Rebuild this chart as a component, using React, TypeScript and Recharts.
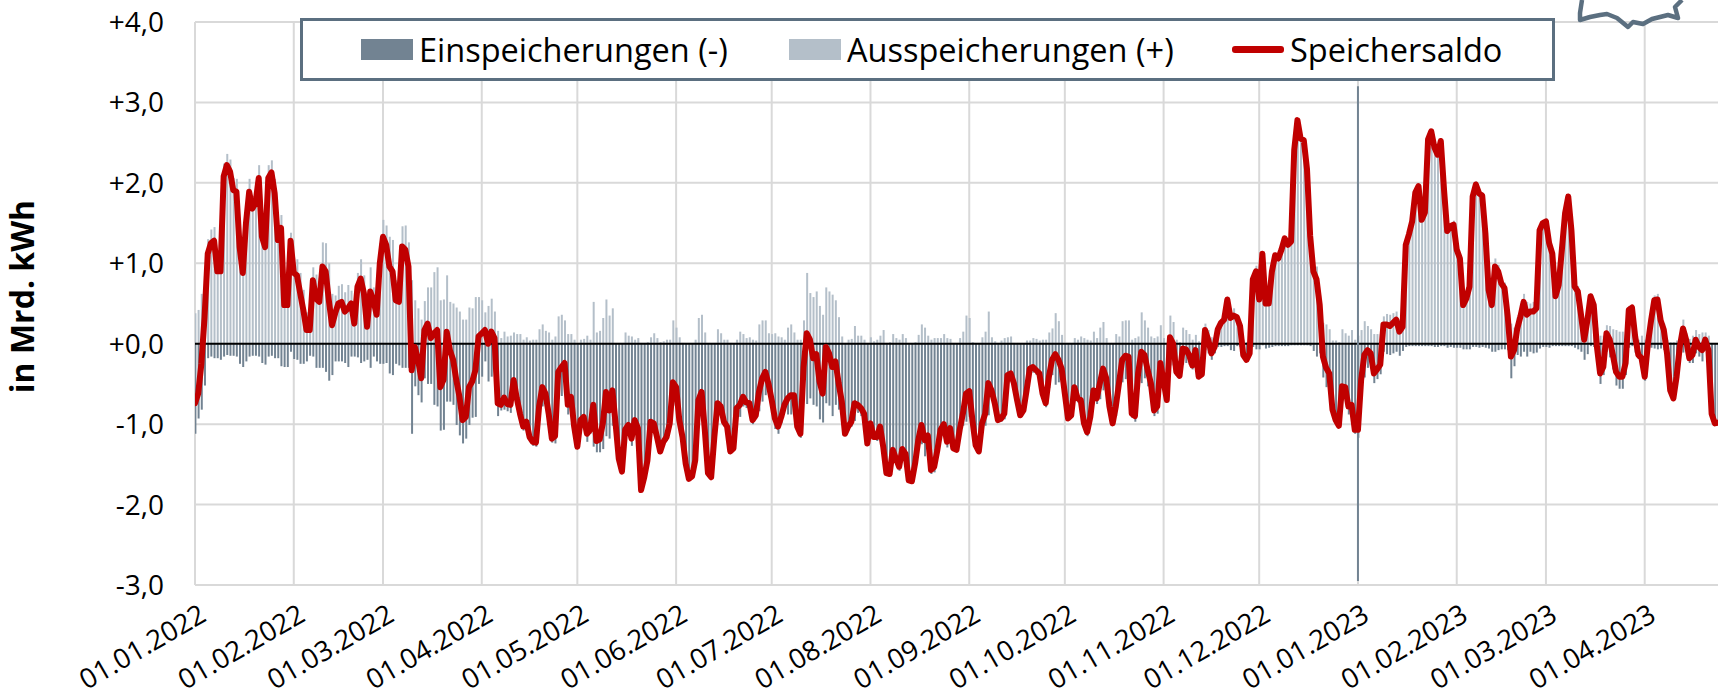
import React from 'react';
import { ComposedChart, Bar, Line, XAxis, YAxis, CartesianGrid, ReferenceLine, Legend } from 'recharts';

const monthTicks = [0, 31, 59, 90, 120, 151, 181, 212, 243, 273, 304, 334, 365, 396, 424, 455];
const monthLabels = ['01.01.2022', '01.02.2022', '01.03.2022', '01.04.2022', '01.05.2022', '01.06.2022', '01.07.2022', '01.08.2022', '01.09.2022', '01.10.2022', '01.11.2022', '01.12.2022', '01.01.2023', '01.02.2023', '01.03.2023', '01.04.2023'];
const yTicks = [4, 3, 2, 1, 0, -1, -2, -3];
const yLabels = ['+4,0', '+3,0', '+2,0', '+1,0', '+0,0', '-1,0', '-2,0', '-3,0'];

const saldo = [
  -.74, -.62, -.25, .33, 1.12, 1.25, 1.28, .9, .9, 2.08, 2.22, 2.14, 1.91, 1.89, 1.2, .88, 1.5, 1.89, 1.68, 1.75, 2.06, 1.33, 1.2, 2.06, 2.13, 1.87, 1.29, 1.44, .48, .48, 1.28,
  .88, .85, .63, .42, .17, .17, .79, .56, .52, .96, .9, .54, .23, .38, .5, .52, .4, .44, .5, .25, .71, .81, .63, .21, .65, .54, .36, 1.0,
  1.33, 1.23, .96, .9, .54, .52, 1.21, 1.17, .96, -.33, -.04, -.2, -.43, .17, .25, .07, .13, .17, -.54, -.45, .15, -.08, -.2, -.45, -.66, -.95, -.91, -.54, -.47, -.33, .09,
  .13, .17, 0, .15, .07, -.74, -.76, -.67, -.75, -.76, -.45, -.68, -.87, -1.03, -.97, -1.16, -1.22, -1.23, -.78, -.54, -.62, -.87, -1.18, -1.15, -.35, -.29, -.24, -.76, -.66, -1.03,
  -1.28, -.95, -.91, -1.12, -1.07, -.76, -1.21, -1.19, -.99, -.6, -.83, -.58, -.99, -1.43, -1.59, -1.07, -1.01, -1.18, -.95, -1.05, -1.82, -1.66, -1.45, -.97, -.99, -1.16, -1.34, -1.22, -1.16, -.99, -.48,
  -.54, -.95, -1.16, -1.49, -1.68, -1.65, -1.45, -.7, -.6, -1.07, -1.61, -1.66, -1.16, -.74, -.78, -.97, -1.03, -1.34, -1.3, -.8, -.76, -.66, -.73, -.74, -.95, -.89, -.6, -.43, -.35, -.5,
  -.7, -.93, -1.03, -.91, -.76, -.68, -.64, -.64, -1.03, -1.12, -.29, .13, .05, -.18, -.13, -.47, -.62, -.04, -.12, -.29, -.22, -.49, -.72, -1.12, -1.03, -.97, -.74, -.76, -.8, -.87, -1.24,
  -.99, -1.16, -1.16, -1.03, -1.28, -1.61, -1.62, -1.32, -1.43, -1.53, -1.31, -1.37, -1.7, -1.71, -1.49, -1.2, -1.01, -1.2, -1.14, -1.57, -1.53, -1.32, -1.07, -1.0, -1.22, -1.05, -1.3, -1.32, -1.07, -.87, -.62,
  -.59, -.95, -1.26, -1.34, -.99, -.87, -.49, -.58, -.74, -.95, -.93, -.87, -.39, -.37, -.49, -.7, -.89, -.83, -.58, -.31, -.29, -.33, -.37, -.62, -.74, -.41, -.2, -.13, -.2, -.31,
  -.62, -.93, -.89, -.54, -.68, -.7, -.99, -1.1, -.91, -.58, -.68, -.49, -.31, -.43, -.78, -.99, -.78, -.49, -.2, -.15, -.16, -.87, -.9, -.37, -.1, -.14, -.33, -.49, -.83, -.78, -.24,
  -.47, -.7, .08, 0, -.35, -.4, -.06, -.07, -.14, -.27, -.08, -.41, -.38, .17, .05, -.12, -.04, .18, .26, .3, .55, .32, .35, .33, .22, -.14, -.2, -.12, .8, .9,
  .55, 1.12, .5, .5, .9, 1.1, 1.06, 1.17, 1.31, 1.23, 1.27, 2.41, 2.78, 2.55, 2.53, 2.17, 1.34, .9, .8, .48, -.16, -.3, -.37, -.82, -.95, -1.02, -.53, -.54, -.78, -.76, -1.07,
  -1.07, -.45, -.14, -.08, -.12, -.37, -.32, -.26, .24, .24, .22, .26, .3, .15, .21, 1.23, 1.36, 1.52, 1.88, 1.96, 1.54, 1.63, 2.54, 2.64, 2.44, 2.35, 2.52, 1.92, 1.4, 1.46, 1.48,
  1.17, 1.06, .48, .56, .71, 1.83, 1.98, 1.87, 1.84, 1.37, .67, .48, .96, .9, .75, .69, .34, -.16, -.08, .19, .34, .52, .36, .4, .4, .44, 1.41, 1.5,
  1.52, 1.25, 1.12, .59, .73, 1.17, 1.62, 1.83, 1.41, .71, .65, .36, .05, .29, .59, .48, -.04, -.37, -.29, .13, .05, -.14, -.35, -.41, -.41, -.24, .42, .45, .09, -.14, -.18,
  -.41, 0, .29, .54, .55, .29, .17, -.12, -.58, -.68, -.41, -.04, .19, .05, -.18, -.14, .05, -.04, -.08, .05, -.08, -.87, -.99, -.98,
];

const ausspeicherungen = [
  .38, .42, .62, .85, 1.3, 1.42, 1.45, 1.08, 1.1, 2.24, 2.36, 2.29, 2.06, 2.05, 1.45, 1.17, 1.72, 2.05, 1.83, 1.9, 2.22, 1.57, 1.46, 2.22, 2.28, 2.05, 1.47, 1.6, .77, .77, 1.38,
  1.07, 1.05, .88, .67, .39, .32, .95, .86, .82, 1.26, 1.25, 1.0, .62, .6, .72, .74, .64, .73, .66, .41, .88, 1.05, .85, .41, .95, .7, .58, 1.25,
  1.54, 1.47, 1.33, 1.29, .79, .79, 1.46, 1.47, 1.26, .79, .54, .44, .3, .53, .7, .7, .89, .95, .54, .55, .85, .52, .5, .45, .4, .3, .3, .45, .44, .58, .58,
  .54, .39, .47, .56, .4, .16, .07, .15, .09, .1, .14, .12, .12, .05, .08, .04, .05, .05, .18, .24, .16, .14, .05, .09, .34, .36, .29, .12, .12, .05,
  0, .05, .06, .1, .05, .52, .14, .16, .32, .55, .35, .44, 0, 0, 0, .14, .1, .09, .05, .07, .01, .01, .02, .08, .13, .07, .02, .03, .05, .05, .29,
  .2, .08, .01, 0, 0, 0, .05, .32, .36, .14, 0, 0, .01, .18, .13, .05, .05, .01, 0, .05, .15, .12, .07, .08, .05, .04, .24, .29, .29, .13,
  .12, .13, .09, .08, .05, .2, .24, .14, .05, .05, .29, .88, .63, .58, .65, .47, .36, .7, .65, .61, .54, .33, .09, .01, .05, .06, .22, .1, .1, .05, 0,
  .08, .03, .05, .1, .17, .01, .02, .12, .07, .05, .12, .07, 0, 0, .02, .11, .24, .2, .1, .05, .07, .07, .07, .12, .07, .06, 0, 0, .07, .15, .35,
  .32, .02, 0, 0, .08, .15, .4, .08, .03, 0, .04, .07, .08, .09, .01, .01, 0, 0, .04, .04, .07, .06, .04, .05, .05, .14, .19, .38, .28, .11,
  0, 0, 0, .07, .05, .09, .07, .05, .04, .15, .07, .2, .27, .07, 0, 0, .12, .09, .28, .29, .29, .05, .07, .09, .39, .29, .2, .09, .07, .09, .23,
  .07, 0, .35, .27, .05, .02, .2, .17, .12, .05, .11, .03, .02, .25, .17, .08, .08, .22, .3, .33, .58, .4, .44, .36, .26, .05, .02, .05, .84, .97,
  .62, 1.14, .56, .55, .94, 1.13, 1.09, 1.2, 1.34, 1.26, 1.29, 2.43, 2.8, 2.57, 2.55, 2.19, 1.37, .99, .96, .6, .26, .24, .18, .04, .04, .02, .18, .13, .1, .17, .05,
  .1, .17, .28, .22, .18, .12, .12, .12, .34, .37, .36, .38, .4, .3, .3, 1.27, 1.39, 1.55, 1.91, 1.99, 1.57, 1.66, 2.57, 2.67, 2.48, 2.39, 2.55, 1.95, 1.45, 1.5, 1.53,
  1.22, 1.11, .55, .63, .78, 1.87, 2.02, 1.92, 1.88, 1.42, .73, .58, 1.06, .98, .82, .76, .42, .25, .2, .33, .5, .62, .52, .5, .52, .55, 1.47, 1.54,
  1.56, 1.3, 1.15, .62, .76, 1.2, 1.65, 1.86, 1.44, .76, .72, .46, .25, .42, .62, .52, .2, .1, .1, .23, .22, .18, .17, .15, .15, .15, .47, .48, .2, .05, .1,
  .05, .12, .34, .6, .62, .35, .25, .05, .02, .02, .04, .1, .3, .13, .06, .1, .17, .12, .14, .14, .1, 0, 0, 0,
];

const einspeicherungen = [
  -1.12, -.93, -.82, -.52, -.18, -.16, -.18, -.18, -.2, -.16, -.14, -.15, -.15, -.16, -.25, -.29, -.22, -.16, -.15, -.15, -.16, -.24, -.26, -.16, -.15, -.18, -.18, -.28, -.29, -.29, -.1,
  -.19, -.2, -.25, -.25, -.22, -.15, -.16, -.3, -.3, -.3, -.35, -.46, -.39, -.22, -.22, -.22, -.24, -.29, -.16, -.16, -.17, -.24, -.22, -.2, -.3, -.16, -.22, -.25,
  -.25, -.24, -.37, -.39, -.25, -.27, -.3, -.3, -.3, -1.12, -.53, -.64, -.73, -.43, -.5, -.5, -.76, -.78, -1.08, -1.07, -.72, -.72, -.76, -1.01, -1.14, -1.24, -1.18, -1.01, -.92, -.91, -.5,
  -.41, -.22, -.47, -.41, -.33, -.9, -.83, -.82, -.84, -.86, -.59, -.8, -.99, -1.08, -1.05, -1.2, -1.27, -1.28, -.96, -.78, -.78, -1.01, -1.23, -1.24, -.69, -.65, -.53, -.88, -.78, -1.08,
  -1.28, -1.0, -.97, -1.22, -1.12, -1.28, -1.35, -1.35, -1.31, -1.15, -1.18, -1.02, -.99, -1.43, -1.59, -1.21, -1.11, -1.27, -1.0, -1.12, -1.83, -1.67, -1.47, -1.05, -1.12, -1.23, -1.36, -1.25, -1.21, -1.04, -.77,
  -.74, -1.03, -1.17, -1.49, -1.68, -1.65, -1.5, -1.02, -.96, -1.21, -1.61, -1.66, -1.17, -.92, -.91, -1.02, -1.08, -1.35, -1.3, -.85, -.91, -.78, -.8, -.82, -1.0, -.93, -.84, -.72, -.64, -.63,
  -.82, -1.06, -1.12, -.99, -.81, -.88, -.88, -.78, -1.08, -1.17, -.58, -.75, -.68, -.76, -.78, -.94, -.98, -.74, -.77, -.9, -.76, -.82, -.81, -1.13, -1.08, -1.03, -.96, -.86, -.9, -.92, -1.24,
  -1.07, -1.19, -1.21, -1.13, -1.45, -1.62, -1.64, -1.44, -1.5, -1.58, -1.43, -1.44, -1.7, -1.71, -1.51, -1.31, -1.25, -1.4, -1.24, -1.62, -1.6, -1.39, -1.14, -1.12, -1.29, -1.11, -1.3, -1.32, -1.14, -1.02, -.97,
  -.91, -.97, -1.26, -1.34, -1.07, -1.02, -.89, -.66, -.77, -.95, -.97, -.94, -.47, -.46, -.5, -.71, -.89, -.83, -.62, -.35, -.36, -.39, -.41, -.67, -.79, -.55, -.39, -.51, -.48, -.42,
  -.62, -.93, -.89, -.61, -.73, -.79, -1.06, -1.15, -.95, -.73, -.75, -.69, -.58, -.5, -.78, -.99, -.9, -.58, -.48, -.44, -.45, -.92, -.97, -.46, -.49, -.43, -.53, -.58, -.9, -.87, -.47,
  -.54, -.7, -.27, -.27, -.4, -.42, -.26, -.24, -.26, -.32, -.19, -.44, -.4, -.08, -.12, -.2, -.12, -.04, -.04, -.03, -.03, -.08, -.09, -.03, -.04, -.19, -.22, -.17, -.04, -.07,
  -.07, -.02, -.06, -.05, -.04, -.03, -.03, -.03, -.03, -.03, -.02, -.02, -.02, -.02, -.02, -.02, -.03, -.09, -.16, -.12, -.42, -.54, -.55, -.86, -.99, -1.04, -.71, -.67, -.88, -.93, -1.12,
  -1.17, -.62, -.42, -.3, -.3, -.49, -.44, -.38, -.1, -.13, -.14, -.12, -.1, -.15, -.09, -.04, -.03, -.03, -.03, -.03, -.03, -.03, -.03, -.03, -.04, -.04, -.03, -.03, -.05, -.04, -.05,
  -.05, -.05, -.07, -.07, -.07, -.04, -.04, -.05, -.04, -.05, -.06, -.1, -.1, -.08, -.07, -.07, -.08, -.43, -.28, -.14, -.16, -.1, -.16, -.1, -.12, -.11, -.06, -.04,
  -.04, -.05, -.03, -.03, -.03, -.03, -.03, -.03, -.03, -.05, -.07, -.1, -.2, -.13, -.03, -.04, -.24, -.5, -.39, -.1, -.17, -.32, -.52, -.56, -.56, -.39, -.05, -.03, -.11, -.19, -.28,
  -.46, -.12, -.05, -.06, -.07, -.06, -.08, -.17, -.6, -.7, -.45, -.14, -.11, -.08, -.24, -.24, -.12, -.16, -.22, -.09, -.18, -.87, -.99, -.98,
];

const yearChange = 365;
const yearChangeTop = 3.2;
const yearChangeBottom = -2.95;

const rows = saldo.map((v, i) => ({
  day: i,
  saldo: v,
  aus: ausspeicherungen[i] ?? 0,
  ein: einspeicherungen[i] ?? 0,
}));

const FONT = '"Open Sans", sans-serif';

const XTick = (props: any) => {
  const { x, y, payload } = props;
  const idx = monthTicks.indexOf(payload.value);
  return (
    <text x={x + 13} y={y + 27} textAnchor="end" fontFamily={FONT} fontSize={27.5} fill="#000"
      transform={`rotate(-30 ${x + 13} ${y + 27})`}>
      {monthLabels[idx]}
    </text>
  );
};

const LegendBox = ({ payload }: any) => (
  <div style={{
    boxSizing: 'border-box', width: 1255, height: 63, background: '#fff', border: '3px solid #5b6f80',
    display: 'flex', alignItems: 'center', fontFamily: FONT, fontSize: 32.5, color: '#000', position: 'relative',
  }}>
    {(payload || []).map((p: any, i: number) => {
      const lefts = [58, 486, 929];
      return (
        <div key={p.value} style={{ position: 'absolute', left: lefts[i], display: 'flex', alignItems: 'center', whiteSpace: 'nowrap' }}>
          {p.type === 'line'
            ? <span style={{ width: 52, height: 7, background: p.color, marginRight: 6, borderRadius: 3 }} />
            : <span style={{ width: 52, height: 21, background: p.color, marginRight: 6 }} />}
          <span>{p.value}</span>
        </div>
      );
    })}
  </div>
);

export default function App() {
  return (
    <div style={{ position: 'fixed', left: 0, top: 0, width: 1718, height: 698, background: '#fff', overflow: 'hidden' }}>
      <ComposedChart width={1718} height={698} data={rows} stackOffset="sign" barSize={2}
        margin={{ top: 22, right: 0, bottom: 0, left: 0 }}>
        <CartesianGrid stroke="#d9d9d9" strokeWidth={2} syncWithTicks />
        <XAxis dataKey="day" type="number" domain={[0, 478]} ticks={monthTicks} interval={0} height={113}
          axisLine={false} tickLine={false} tick={<XTick />} allowDataOverflow />
        <YAxis type="number" domain={[-3, 4]} ticks={yTicks} interval={0} width={195} axisLine={false} tickLine={false} tickMargin={25}
          tick={{ fontFamily: FONT, fontSize: 28, fill: '#000' }}
          tickFormatter={(v: number) => yLabels[yTicks.indexOf(v)]}
          label={{ value: 'in Mrd. kWh', angle: -90, position: 'insideLeft', offset: 0, dx: 23, dy: -7, style: { fontFamily: FONT, fontSize: 32, fontWeight: 700, fill: '#000', textAnchor: 'middle' } }} />
        <Legend verticalAlign="middle" align="center" layout="horizontal" itemSorter={null as any}
          wrapperStyle={{ position: 'absolute', left: 300, top: 18, width: 1255, height: 63, margin: 0, padding: 0 }}
          content={<LegendBox />} />
        <Bar dataKey="ein" name="Einspeicherungen (-)" stackId="s" fill="#728392" isAnimationActive={false} legendType="rect" />
        <Bar dataKey="aus" name="Ausspeicherungen (+)" stackId="s" fill="#b4bfc9" isAnimationActive={false} legendType="rect" />
        <ReferenceLine y={0} stroke="#000" strokeWidth={2} />
        <ReferenceLine stroke="#728392" strokeWidth={2} segment={[{ x: yearChange, y: yearChangeTop }, { x: yearChange, y: yearChangeBottom }]} />
        <Line dataKey="saldo" name="Speichersaldo" type="linear" stroke="#c00000" strokeWidth={6} dot={false} activeDot={false}
          strokeLinejoin="round" strokeLinecap="round" isAnimationActive={false} legendType="line" />
      </ComposedChart>
      <svg width={1718} height={698} style={{ position: 'absolute', left: 0, top: 0, pointerEvents: 'none' }}>
        <path d="M1582 0 L1580 13 L1580 20 L1590 17 L1600 15 L1607 14 L1617 18 L1628 27 L1633 22 L1643 24 L1652 19 L1660 17 L1668 15 L1678 18 L1675 7 L1682 0"
          fill="none" stroke="#5b6f80" strokeWidth={4.5} strokeLinejoin="round" />
      </svg>
    </div>
  );
}
